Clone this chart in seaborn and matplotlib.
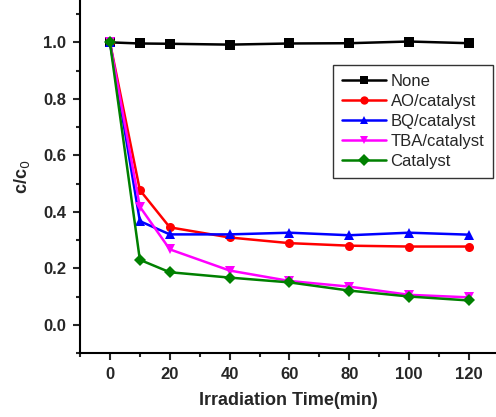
import numpy as np
import pandas as pd
import seaborn as sns
import matplotlib
matplotlib.use("Agg")
import matplotlib.pyplot as plt
from matplotlib.ticker import MultipleLocator

time = [0, 10, 20, 40, 60, 80, 100, 120]
none_vals = [1.0, 0.996, 0.995, 0.992, 0.996, 0.997, 1.003, 0.997]
ao_vals = [1.0, 0.477, 0.345, 0.309, 0.289, 0.280, 0.277, 0.277]
bq_vals = [1.0, 0.367, 0.320, 0.320, 0.326, 0.317, 0.326, 0.319]
tba_vals = [1.0, 0.418, 0.267, 0.192, 0.155, 0.135, 0.106, 0.097]
cat_vals = [1.0, 0.230, 0.186, 0.167, 0.150, 0.121, 0.100, 0.086]
labels = ["None", "AO/catalyst", "BQ/catalyst", "TBA/catalyst", "Catalyst"]
colors = ["black", "#ff0000", "#0000ff", "#ff00ff", "#008000"]
markers = ["s", "o", "^", "v", "D"]

series = [none_vals, ao_vals, bq_vals, tba_vals, cat_vals]
df = pd.DataFrame({
    "time": np.tile(time, len(labels)),
    "c": np.concatenate(series),
    "group": np.repeat(labels, len(time)),
})

sns.set_style("ticks")
plt.rcParams["font.family"] = ["Liberation Sans", "DejaVu Sans"]

fig = plt.figure(figsize=(4.96, 4.17), dpi=100)
ax = fig.add_axes([80 / 496, 64 / 417, 1 - 80 / 496, 1 - 64 / 417])

sns.lineplot(data=df, x="time", y="c", hue="group", style="group",
             hue_order=labels, style_order=labels,
             palette=dict(zip(labels, colors)),
             markers=dict(zip(labels, markers)),
             dashes=False, linewidth=1.8, markersize=6.5,
             markeredgewidth=0, ax=ax)

ax.set_xlim(-10, 129)
ax.set_ylim(-0.1, 1.15)
ax.set_xticks([0, 20, 40, 60, 80, 100, 120])
ax.xaxis.set_minor_locator(MultipleLocator(10))
ax.yaxis.set_major_locator(MultipleLocator(0.2))
ax.yaxis.set_minor_locator(MultipleLocator(0.1))
ax.tick_params(which="major", direction="out", length=5, width=1.5,
               labelsize=12, pad=5)
ax.tick_params(which="minor", direction="out", length=3, width=1.5)
ax.yaxis.set_major_formatter(matplotlib.ticker.FormatStrFormatter("%.1f"))
for lab in ax.get_xticklabels() + ax.get_yticklabels():
    lab.set_fontweight("bold")

for s in ["left", "bottom"]:
    ax.spines[s].set_linewidth(1.5)
    ax.spines[s].set_color("black")
ax.spines["top"].set_visible(False)
ax.spines["right"].set_visible(False)

ax.set_xlabel("Irradiation Time(min)", fontsize=13, fontweight="bold", labelpad=7)
ax.set_ylabel("c/c$_0$", fontsize=13, fontweight="bold", labelpad=8)

handles, lbls = ax.get_legend_handles_labels()
for h in handles:
    h.set_markersize(6)
leg = ax.legend(handles, lbls, loc="upper left",
                bbox_to_anchor=(333 / 496, 1 - 65 / 417),
                bbox_transform=fig.transFigure, borderaxespad=0,
                fontsize=12, frameon=True, fancybox=False,
                handlelength=2.6, handletextpad=0.3, labelspacing=0.3,
                borderpad=0.55)
leg.get_frame().set_edgecolor("black")
leg.get_frame().set_linewidth(1.0)

fig.savefig("out.png", dpi=100)
